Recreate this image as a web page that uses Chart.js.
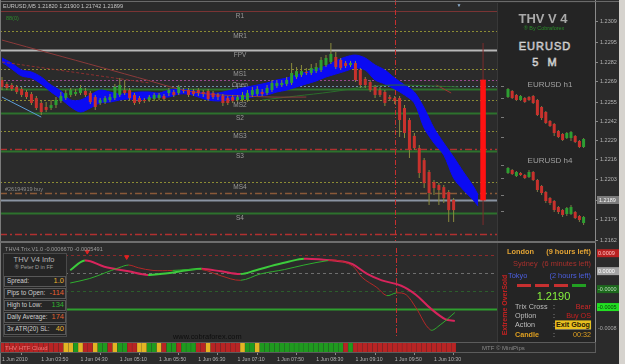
<!DOCTYPE html>
<html>
<head>
<meta charset="utf-8">
<title>EURUSD M5 - THV V4</title>
<script src="https://cdn.jsdelivr.net/npm/chart.js@4.4.1/dist/chart.umd.min.js"></script>
<style>
  html, body { margin: 0; padding: 0; }
  body { width: 625px; height: 364px; overflow: hidden; position: relative; background: #2b2b2b; font-family: 'Liberation Sans', Arial, sans-serif; }
  canvas { position: absolute; }
  .t { position: absolute; white-space: nowrap; line-height: 1; transform: translateY(-50%); }
  .b { position: absolute; box-sizing: border-box; }
</style>
</head>
<body>
<canvas id="main" width="625" height="242" style="left:0;top:0"></canvas>
<canvas id="trix" width="625" height="98" style="left:0;top:243px"></canvas>
<canvas id="heat" width="625" height="23" style="left:0;top:341px"></canvas>
<div class="b" style="left:497px;top:3px;width:98px;height:339px;background:#242424;border-left:1px solid #383838"></div>
<canvas id="h1" width="92" height="66" style="left:500px;top:86px"></canvas>
<canvas id="h4" width="92" height="62" style="left:500px;top:165px"></canvas>
<script>
const FONT = "'Liberation Sans', Arial, sans-serif";
Chart.defaults.font.family = FONT;

// ================= PRICE DATA (EURUSD M5, bar 0 = 03:10) =================

const opens = [
  1.22699,1.22672,1.22665,1.22652,1.22638,1.22618,1.22604,1.22577,1.22544,1.22517,
  1.22510,1.22530,1.22557,1.22577,1.22598,1.22604,1.22611,1.22625,1.22611,1.22584,
  1.22544,1.22550,1.22564,1.22577,1.22598,1.22631,1.22631,1.22598,1.22577,1.22564,
  1.22564,1.22571,1.22577,1.22591,1.22611,1.22618,1.22611,1.22631,1.22631,1.22625,
  1.22631,1.22618,1.22625,1.22611,1.22598,1.22591,1.22577,1.22584,1.22564,1.22564,
  1.22564,1.22598,1.22604,1.22618,1.22611,1.22631,1.22658,1.22665,1.22672,1.22679,
  1.22719,1.22733,1.22753,1.22746,1.22759,1.22766,1.22800,1.22820,1.22854,1.22834,
  1.22813,1.22800,1.22813,1.22766,1.22706,1.22685,1.22652,1.22631,1.22618,1.22584,
  1.22577,1.22577,1.22510,1.22429,1.22322,1.22240,1.22159,1.22079,1.22011,1.21991,
  1.21977,1.21944,1.21890
];
const closes = [
  1.22652,1.22645,1.22638,1.22618,1.22598,1.22584,1.22544,1.22510,1.22483,1.22497,
  1.22530,1.22564,1.22591,1.22611,1.22631,1.22618,1.22645,1.22598,1.22550,1.22517,
  1.22564,1.22577,1.22584,1.22652,1.22665,1.22611,1.22577,1.22544,1.22550,1.22557,
  1.22584,1.22598,1.22598,1.22571,1.22631,1.22598,1.22652,1.22625,1.22598,1.22604,
  1.22611,1.22604,1.22571,1.22584,1.22584,1.22544,1.22544,1.22557,1.22584,1.22598,
  1.22611,1.22631,1.22638,1.22604,1.22645,1.22679,1.22679,1.22679,1.22699,1.22746,
  1.22759,1.22759,1.22746,1.22780,1.22786,1.22834,1.22847,1.22874,1.22786,1.22780,
  1.22793,1.22813,1.22699,1.22665,1.22665,1.22631,1.22598,1.22598,1.22544,1.22571,
  1.22557,1.22429,1.22342,1.22227,1.22240,1.22072,1.22004,1.21937,1.21971,1.21957,
  1.21903,1.21822,1.21822
];
const highs = [
  1.22719,1.22685,1.22679,1.22665,1.22652,1.22631,1.22618,1.22591,1.22564,1.22550,
  1.22564,1.22584,1.22618,1.22631,1.22645,1.22638,1.22665,1.22645,1.22625,1.22598,
  1.22577,1.22591,1.22604,1.22672,1.22712,1.22699,1.22645,1.22611,1.22591,1.22577,
  1.22598,1.22611,1.22611,1.22604,1.22645,1.22631,1.22665,1.22645,1.22645,1.22638,
  1.22645,1.22631,1.22638,1.22625,1.22611,1.22604,1.22591,1.22598,1.22598,1.22618,
  1.22631,1.22652,1.22658,1.22638,1.22665,1.22699,1.22699,1.22699,1.22719,1.22813,
  1.22786,1.22800,1.22780,1.22807,1.22813,1.22854,1.22867,1.22948,1.22888,1.22847,
  1.22827,1.22827,1.22827,1.22780,1.22719,1.22699,1.22665,1.22652,1.22631,1.22598,
  1.22591,1.22591,1.22530,1.22443,1.22342,1.22261,1.22173,1.22092,1.22025,1.22004,
  1.21991,1.21957,1.21903
];
const lows = [
  1.22631,1.22631,1.22625,1.22604,1.22584,1.22571,1.22530,1.22497,1.22463,1.22483,
  1.22497,1.22510,1.22544,1.22564,1.22584,1.22591,1.22598,1.22584,1.22537,1.22497,
  1.22530,1.22537,1.22550,1.22564,1.22584,1.22598,1.22564,1.22530,1.22537,1.22544,
  1.22550,1.22557,1.22564,1.22557,1.22591,1.22584,1.22598,1.22611,1.22584,1.22591,
  1.22591,1.22584,1.22557,1.22571,1.22564,1.22524,1.22530,1.22544,1.22550,1.22550,
  1.22550,1.22584,1.22591,1.22591,1.22598,1.22618,1.22645,1.22652,1.22658,1.22665,
  1.22706,1.22719,1.22733,1.22733,1.22746,1.22753,1.22786,1.22807,1.22773,1.22766,
  1.22780,1.22786,1.22685,1.22645,1.22645,1.22618,1.22577,1.22584,1.22524,1.22557,
  1.22537,1.22315,1.22308,1.22173,1.22227,1.22038,1.21971,1.21856,1.21924,1.21856,
  1.21870,1.21742,1.21742
];

const priceTicks = [1.2309,1.2295,1.2282,1.2269,1.2255,1.2242,1.2229,1.2216,1.2203,1.2189,1.2176,1.2162];
const currentPrice = 1.21890;

// pivot levels
const levelNames  = ['R1','MR1','FPV','MS1','Open','','S1','MS2','S2','MS3','','S3','MS4','','','S4',''];
const levelValues = [1.23164,1.23029,1.22901,1.22773,1.22699,1.22658,1.22638,1.22564,1.22476,1.22355,1.22233,1.22220,1.22011,1.21937,1.21890,1.21802,1.21661];
const levelKinds  = ['pivot','mid','fpv','mid','open','prevclose','support','mid','support','mid','daily','support','mid','order','price','support','daily'];

// blue cloud
const bandBars  = [0,2,4,6,8,10,12,14,16,18,20,22,24,26,28,30,32,34,36,38,40,42,44,46,48,50,52,54,56,58,60,62,64,66,68,70,72,74,76,78,80,82,84,86,88,90,92,94,96,97];
const bandUpper = [1.22847,1.22813,1.22766,1.22753,1.22719,1.22665,1.22625,1.22564,1.22564,1.22598,1.22631,1.22618,1.22604,1.22611,1.22618,1.22618,1.22611,1.22631,1.22638,1.22631,1.22618,1.22611,1.22611,1.22625,1.22638,1.22652,1.22665,1.22679,1.22699,1.22712,1.22733,1.22753,1.22773,1.22793,1.22827,1.22854,1.22867,1.22847,1.22800,1.22766,1.22712,1.22665,1.22618,1.22510,1.22375,1.22274,1.22180,1.22079,1.21984,1.21924];
const bandLower = [1.22820,1.22773,1.22726,1.22712,1.22672,1.22618,1.22571,1.22517,1.22483,1.22510,1.22544,1.22550,1.22564,1.22571,1.22564,1.22577,1.22584,1.22584,1.22604,1.22604,1.22584,1.22564,1.22557,1.22564,1.22571,1.22577,1.22591,1.22598,1.22618,1.22631,1.22652,1.22672,1.22692,1.22719,1.22739,1.22759,1.22780,1.22766,1.22699,1.22672,1.22638,1.22598,1.22544,1.22375,1.22274,1.22193,1.22038,1.21957,1.21890,1.21849];

// moving averages and trend lines
const maBars = [0,10,20,30,36,42,55,62];
const maValues = [1.22968,1.22877,1.22786,1.22694,1.22638,1.22604,1.22584,1.22584];
const dashBars = [0,30];
const dashValues = [1.22820,1.22679];
const greenMaBars = [53,60,67,74,80,88,93];
const greenMaValues = [1.22564,1.22591,1.22618,1.22652,1.22665,1.22658,1.22652];
const trendBars = [0,8];
const trendValues = [1.22584,1.22449];
const redSegBars = [88.5,91.5];
const redSegValues = [1.22665,1.22611];

// signal bar on the right
const signalBar = 98;
const signalRange = [1.21890,1.22699];
const signalSpan = [1.21721,1.22948];
const sessionBar = 80;

// ================= TRIX PANEL DATA =================

const trixABars = [13,16,20,25,29,33,37,40,44,48,51,55,58,61,65,69,71,74,77,81,84,87,90,92];
const trixAValues = [0.00004,0.000175,0.00009,0.000025,-0.000025,0,0.00004,0.00006,0.000025,-0.0000125,0.0000375,0.0001125,0.0001625,0.0002,0.0001875,0.0001625,0.000125,-0.00001,-0.0001,-0.000175,-0.0003,-0.00049,-0.00064,-0.000667];
const trixBBars = [13,17,20,23,25,27,30,34,40,44,48,52,57,61,66,68,71,73,76,78,80,82,84,87,89,92];
const trixBValues = [-0.0001375,-0.000075,0,0.000075,0.0001125,0.000075,0.0000375,0.0000375,0.00005,-0.0000375,-0.0001,-0.0000125,0.00005,0.0001125,0.000175,0.000175,0.0001,-0.0000625,-0.0002,-0.0003125,-0.000275,-0.0003,-0.00048,-0.00079,-0.00072,-0.000549];
const arrowBars = [16.5,24.6];
const arrowValues = [0.0003,0.000225];
const trixLevels = [0.00025,0,-0.00025,-0.0005];
const trixLevelKinds = ['upper','zero','lower','signal'];
const trixTagValues = [0.00025,0,-0.00025,-0.0005,-0.0008];
const trixTagTexts = ['0.0009','0.0000','-0.0000','-0.0005','-0.0008'];
const trixTagKinds = ['red','gray','dkgreen','green','plain'];

// ================= HTF CLOUD + TIME AXIS =================

const heatCodes = ('RRRRRRRRRRRRR' + 'YYGYRRYGGRYGGRRYYGGYRGGRGGGRRY' + 'RRRRRR' + 'YGGY' +
  'GGGGGGGGGGGGGGG' + 'GGRGR' + 'RRRRRRRRRRRRRRRRRRRR').split('');
const timeBars = [0,8,16,24,32,40,48,56,64,72,80,88];
const timeLabels = ['1 Jun 2010','1 Jun 03:50','1 Jun 04:30','1 Jun 05:10','1 Jun 05:50','1 Jun 06:30',
  '1 Jun 07:10','1 Jun 07:50','1 Jun 08:30','1 Jun 09:10','1 Jun 09:50','1 Jun 10:30'];

// ================= MINI CHARTS (H1 / H4) =================

const h1Open  = [1.23025,1.23175,1.23075,1.2295,1.2300,1.23025,1.2305,1.2295,1.22775,1.2265,1.22425,1.2235,1.22175,1.221,1.22,1.22,1.2205,1.21925,1.21775];
const h1Close = [1.23225,1.2300,1.2295,1.2305,1.229,1.2295,1.22875,1.22575,1.225,1.22375,1.223,1.22125,1.22025,1.2195,1.22125,1.2215,1.219,1.21775,1.21975];
const h1High  = [1.2325,1.232,1.231,1.23075,1.23025,1.2305,1.23075,1.22975,1.228,1.22675,1.2245,1.22375,1.222,1.22125,1.2215,1.22175,1.22075,1.2195,1.22];
const h1Low   = [1.23,1.22975,1.22925,1.22925,1.22875,1.22925,1.2285,1.2255,1.2245,1.2235,1.22275,1.2205,1.22,1.21925,1.21975,1.21925,1.21875,1.2175,1.2175];

const h4Open  = [1.2432,1.2450,1.2414,1.2432,1.2420,1.2408,1.2438,1.2390,1.2354,1.2318,1.2282,1.2264,1.2228,1.2210,1.2186,1.2186,1.2198,1.2174,1.2132];
const h4Close = [1.2462,1.2426,1.2438,1.2420,1.2402,1.2438,1.2390,1.2330,1.2312,1.2264,1.2252,1.2210,1.2198,1.2180,1.2222,1.2228,1.2162,1.2150,1.2168];
const h4High  = [1.2468,1.2456,1.2444,1.2438,1.2426,1.2450,1.2444,1.2396,1.2360,1.2324,1.2288,1.2270,1.2234,1.2216,1.2228,1.2240,1.2204,1.2180,1.2174];
const h4Low   = [1.2426,1.2420,1.2408,1.2414,1.2396,1.2402,1.2384,1.2318,1.2300,1.2252,1.2240,1.2198,1.2186,1.2168,1.2174,1.2180,1.2156,1.2138,1.2120];

// ================= TEXT PANELS =================

const infoLabels = ['Spread:','Pips to Open:','High to Low:','Daily Average:','3x ATR(20) SL:'];
const infoValues = ['1.0','-114','134','174','40'];
const sessionNames = ['London','Sydney','Tokyo'];
const sessionLeft = ['(9 hours left)','(6 minutes left)','(2 hours left)'];
const strengthBars = ['bear','bear','bear','bull'];
const signalLabels = ['Trix Cross','Option','Action','Candle'];
const signalValues = ['Bear','Buy OS','Exit Gbog','00:32'];


// ================= STYLES =================

const UP = '#2e9e32', DOWN = '#c8322d', WICK = '#8a8a3c', BAND = '#0b0bf2';

const LEVEL_STYLE = {
  pivot:     { c: '#7a3434', w: 1,   d: [] },
  mid:       { c: '#8c8c34', w: 1,   d: [2, 2] },
  fpv:       { c: '#b8b8b8', w: 2,   d: [] },
  open:      { c: '#9c4a90', w: 1,   d: [2, 2] },
  prevclose: { c: '#6c8ca8', w: 1,   d: [2, 2] },
  support:   { c: '#2d722d', w: 2,   d: [] },
  daily:     { c: '#b03030', w: 1.5, d: [7, 3, 2, 3] },
  order:     { c: '#8a5a38', w: 1.5, d: [7, 3, 2, 3] },
  price:     { c: '#8a94a2', w: 2,   d: [] }
};
const TRIX_LEVEL_STYLE = {
  upper:  { c: '#8c2a2a', w: 1, d: [3, 3] },
  zero:   { c: '#6e6e6e', w: 1, d: [3, 3] },
  lower:  { c: '#2c5e2c', w: 1, d: [3, 3] },
  signal: { c: '#2f9e2f', w: 2, d: [] }
};
const TAG_STYLE = {
  red:     { bg: '#b82222', fg: '#ffc0c0' },
  gray:    { bg: '#a4a4a4', fg: '#ffffff' },
  dkgreen: { bg: '#1d6a1d', fg: '#c0dcc0' },
  green:   { bg: '#22e022', fg: '#0a3a0a' },
  plain:   { bg: null,      fg: '#a8a8a8' }
};
const HEAT = { R: '#b82424', G: '#1f9a1f', Y: '#e4b424' };

const X_SCALE = { type: 'linear', min: -0.4, max: 120.8, offset: false, display: false };
const NO_UI = { legend: { display: false }, tooltip: { enabled: false } };

function pts(xs, ys) {
  return xs.map((x, i) => ({ x: x, y: ys[i] }));
}

function hline(ctx, a, py, st) {
  ctx.strokeStyle = st.c;
  ctx.lineWidth = st.w;
  ctx.setLineDash(st.d);
  ctx.beginPath();
  ctx.moveTo(a.left, py);
  ctx.lineTo(a.right, py);
  ctx.stroke();
}

function vline(ctx, x, top, bottom) {
  ctx.strokeStyle = '#c83030';
  ctx.lineWidth = 1;
  ctx.setLineDash([5, 2, 1, 2]);
  ctx.beginPath();
  ctx.moveTo(x, top);
  ctx.lineTo(x, bottom);
  ctx.stroke();
}


// ================= MAIN PRICE CHART =================

const bars = opens.map((_, i) => i);
const candleColors = bars.map(i => closes[i] >= opens[i] ? UP : DOWN);

const levelPlugin = {
  id: 'levels',
  beforeDatasetsDraw(chart) {
    const { ctx, chartArea: a, scales: { x, y } } = chart;
    ctx.save();
    levelValues.forEach((v, i) => {
      const st = LEVEL_STYLE[levelKinds[i]];
      hline(ctx, a, Math.round(y.getPixelForValue(v)) + 0.5, st);
    });
    vline(ctx, Math.round(x.getPixelForValue(sessionBar)) + 0.5, a.top, a.bottom);
    ctx.setLineDash([]);
    ctx.font = '6.5px ' + FONT;
    ctx.fillStyle = '#9a9a9a';
    ctx.textAlign = 'center';
    ctx.textBaseline = 'middle';
    levelValues.forEach((v, i) => {
      if (levelNames[i]) ctx.fillText(levelNames[i], a.left + 240, y.getPixelForValue(v) + 5);
    });
    ctx.restore();
  },
  afterDraw(chart) {
    const { ctx, chartArea: a, scales: { y } } = chart;
    const py = y.getPixelForValue(currentPrice);
    ctx.save();
    ctx.fillStyle = '#7c7c7c';
    ctx.fillRect(a.right + 2, py - 4, 22, 8);
    ctx.fillStyle = '#f4f4f4';
    ctx.font = '5.5px ' + FONT;
    ctx.textBaseline = 'middle';
    ctx.fillText(currentPrice.toFixed(4), a.right + 4, py);
    ctx.restore();
  }
};

new Chart(document.getElementById('main'), {
  type: 'bar',
  data: {
    datasets: [
      { type: 'line', data: pts(bandBars, bandUpper), borderColor: BAND, backgroundColor: BAND, borderWidth: 1, pointRadius: 0, tension: 0.3, fill: '+1', order: 20 },
      { type: 'line', data: pts(bandBars, bandLower), borderColor: BAND, borderWidth: 1, pointRadius: 0, tension: 0.3, fill: false, order: 21 },
      { type: 'line', data: pts(maBars, maValues), borderColor: '#8c3a3a', borderWidth: 1, pointRadius: 0, tension: 0.3, order: 15 },
      { type: 'line', data: pts(dashBars, dashValues), borderColor: '#8c3030', borderWidth: 1, borderDash: [3, 2], pointRadius: 0, order: 15 },
      { type: 'line', data: pts(greenMaBars, greenMaValues), borderColor: '#2b6e2b', borderWidth: 1, pointRadius: 0, tension: 0.3, order: 15 },
      { type: 'line', data: pts(trendBars, trendValues), borderColor: '#5c9cd6', borderWidth: 1, pointRadius: 0, order: 15 },
      { type: 'line', data: pts(redSegBars, redSegValues), borderColor: '#a03232', borderWidth: 1, pointRadius: 0, order: 15 },
      { data: bars.map(i => ({ x: i, y: [lows[i], highs[i]] })), backgroundColor: WICK, maxBarThickness: 1, grouped: false, order: 3 },
      { data: bars.map(i => ({ x: i, y: [opens[i], closes[i]] })), backgroundColor: candleColors, maxBarThickness: 3, minBarLength: 1, grouped: false, order: 2 },
      { data: [{ x: signalBar, y: signalSpan }], backgroundColor: '#7c2c2c', maxBarThickness: 1, grouped: false, order: 1 },
      { data: [{ x: signalBar, y: signalRange }], backgroundColor: '#ff1212', maxBarThickness: 5, barPercentage: 1, categoryPercentage: 1, grouped: false, order: 0 }
    ]
  },
  options: {
    responsive: false,
    animation: false,
    devicePixelRatio: 1,
    layout: { padding: 0 },
    plugins: NO_UI,
    scales: {
      x: X_SCALE,
      y: {
        position: 'right',
        min: 1.21607,
        max: 1.23238,
        beginAtZero: false,
        afterBuildTicks: s => { s.ticks = priceTicks.map(v => ({ value: v })); },
        afterFit: s => { s.width = 30; s.paddingTop = 0; s.paddingBottom = 0; },
        ticks: { autoSkip: false, color: '#b4b4b4', font: { size: 5.5 }, padding: 2, callback: v => v.toFixed(4) },
        grid: { drawOnChartArea: false, color: '#8a8a8a', tickLength: 3 },
        border: { color: '#8a8a8a' }
      }
    }
  },
  plugins: [levelPlugin]
});


// ================= TRIX PANEL =================

const trixPlugin = {
  id: 'trixLevels',
  beforeDatasetsDraw(chart) {
    const { ctx, chartArea: a, scales: { x, y } } = chart;
    ctx.save();
    trixLevels.forEach((v, i) => {
      hline(ctx, a, Math.round(y.getPixelForValue(v)) + 0.5, TRIX_LEVEL_STYLE[trixLevelKinds[i]]);
    });
    vline(ctx, Math.round(x.getPixelForValue(sessionBar)) + 0.5, a.top, a.bottom);
    ctx.restore();
  },
  afterDraw(chart) {
    const { ctx, chartArea: a, scales: { y } } = chart;
    ctx.save();
    ctx.font = '5.5px ' + FONT;
    ctx.textBaseline = 'middle';
    trixTagValues.forEach((v, i) => {
      const st = TAG_STYLE[trixTagKinds[i]];
      const py = y.getPixelForValue(v) - 2;
      if (st.bg) {
        ctx.fillStyle = st.bg;
        ctx.fillRect(a.right + 2, py - 4, 24, 8);
      }
      ctx.fillStyle = st.fg;
      ctx.fillText(trixTagTexts[i], a.right + 3, py);
    });
    ctx.restore();
  }
};

function trixSegment(up, down) {
  return { borderColor: c => c.p1.parsed.y > c.p0.parsed.y ? up : down };
}

new Chart(document.getElementById('trix'), {
  type: 'line',
  data: {
    datasets: [
      { data: pts(trixBBars, trixBValues), borderColor: '#b42828', borderWidth: 1, pointRadius: 0, tension: 0.35, segment: trixSegment('#2fae2f', '#b42828') },
      { data: pts(trixABars, trixAValues), borderColor: '#d8245c', borderWidth: 2, pointRadius: 0, tension: 0.35, segment: trixSegment('#3ccc3c', '#d8245c') },
      { data: pts(arrowBars, arrowValues), showLine: false, pointStyle: 'triangle', rotation: 180, pointRadius: 2.5, backgroundColor: '#e02020', borderColor: '#e02020' }
    ]
  },
  options: {
    responsive: false,
    animation: false,
    devicePixelRatio: 1,
    layout: { padding: { right: 30 } },
    plugins: NO_UI,
    scales: {
      x: X_SCALE,
      y: { display: false, min: -0.000875, max: 0.00035 }
    }
  },
  plugins: [trixPlugin]
});


// ================= HTF CLOUD ROW + TIME AXIS =================

new Chart(document.getElementById('heat'), {
  type: 'bar',
  data: {
    datasets: [{
      data: bars.map(i => ({ x: i, y: 1 })),
      backgroundColor: heatCodes.map(c => HEAT[c]),
      maxBarThickness: 4,
      barPercentage: 1,
      categoryPercentage: 1,
      grouped: false
    }]
  },
  options: {
    responsive: false,
    animation: false,
    devicePixelRatio: 1,
    layout: { padding: { top: 2, right: 30 } },
    plugins: NO_UI,
    scales: {
      x: {
        type: 'linear', min: -0.4, max: 120.8, offset: false,
        afterBuildTicks: s => { s.ticks = timeBars.map(v => ({ value: v })); },
        afterFit: s => { s.height = 12; s.paddingLeft = 0; s.paddingRight = 0; },
        ticks: { autoSkip: false, maxRotation: 0, align: 'start', color: '#b4b4b4', font: { size: 5.2 }, padding: 1, callback: (v, i) => timeLabels[i] },
        grid: { drawOnChartArea: false, color: '#8a8a8a', tickLength: 3 },
        border: { display: false }
      },
      y: { display: false, min: 0, max: 1 }
    }
  }
});


// ================= MINI CHARTS =================

function miniChart(id, o, h, l, c, yMin, yMax) {
  const ids = o.map((_, i) => i);
  new Chart(document.getElementById(id), {
    type: 'bar',
    data: {
      datasets: [
        { data: ids.map(i => ({ x: i, y: [l[i], h[i]] })), backgroundColor: '#7d7d48', maxBarThickness: 1, grouped: false, order: 2 },
        { data: ids.map(i => ({ x: i, y: [o[i], c[i]] })), backgroundColor: ids.map(i => c[i] >= o[i] ? UP : DOWN), maxBarThickness: 3, minBarLength: 1, grouped: false, order: 1 }
      ]
    },
    options: {
      responsive: false,
      animation: false,
      devicePixelRatio: 1,
      plugins: NO_UI,
      scales: {
        x: { type: 'linear', min: -0.95, max: 20, offset: false, display: false },
        y: {
          position: 'left', min: yMin, max: yMax, beginAtZero: false,
          afterFit: s => { s.width = 4; s.paddingTop = 0; s.paddingBottom = 0; },
          ticks: { display: false },
          grid: { drawOnChartArea: false, color: '#7a7a7a', tickLength: 3 },
          border: { display: false }
        }
      }
    }
  });
}

miniChart('h1', h1Open, h1High, h1Low, h1Close, 1.2165, 1.2330);
miniChart('h4', h4Open, h4High, h4Low, h4Close, 1.2108, 1.2480);


// ================= HTML TEXT & FRAME =================

function text(x, y, str, css) {
  const d = document.createElement('div');
  d.className = 't';
  d.textContent = str;
  d.style.cssText = 'left:' + x + 'px;top:' + y + 'px;' + (css || '');
  document.body.appendChild(d);
  return d;
}

function rect(x, y, w, h, css) {
  const d = document.createElement('div');
  d.className = 'b';
  d.style.cssText = 'left:' + x + 'px;top:' + y + 'px;width:' + w + 'px;height:' + h + 'px;' + (css || '');
  document.body.appendChild(d);
  return d;
}

const CENTER = 'transform:translate(-50%,-50%);';
const RIGHT = 'transform:translate(-100%,-50%);';

// frame
rect(0, 1, 619, 1, 'background:#6a6a6a');
rect(0, 0, 1, 364, 'background:#7a7a7a');
rect(0, 241, 596, 2, 'background:#6e6e6e');
rect(595, 243, 1, 110, 'background:#8a8a8a');
rect(0, 342, 596, 11, 'border:1px solid #5c5c5c');
rect(619, 0, 6, 364, 'background:#d6d3ce');

// main panel labels
text(3, 7, 'EURUSD,M5  1.21820 1.21900 1.21742 1.21899', 'font-size:5.6px;color:#c4c4c4');
text(6, 19, '88(0)', 'font-size:5.5px;color:#2e8a2e');
text(459, 4.5, '▼', 'font-size:5px;color:#8fb0d0;' + CENTER);
text(5, 190, '#26194919 buy', 'font-size:5.5px;color:#8c8c8c');

// trix panel labels
text(5, 250, 'THV4.Trix.V1.0 -0.0006670 -0.0005491', 'font-size:5.6px;color:#9c9c9c');
text(173, 337, 'www.cobraforex.com', 'font-size:7.4px;color:#0e0e0e');
text(5, 347.5, 'THV HTF Cloud', 'font-size:6px;color:#f07a7a');
text(482, 348, 'MTF © MiniPips', 'font-size:6px;color:#8a8a8a');

// info box
const INFO_COLORS = ['#e8b030', '#e86030', '#30b030', '#e06030', '#e8b030'];
rect(3, 253, 64, 84, 'background:#252525;border:1px solid #4a4a4a');
text(34, 260, 'THV  V4  Info', 'font-size:7.5px;color:#b8b8b8;' + CENTER);
text(34, 268, '® Peter D in FF', 'font-size:5.5px;color:#a0a0a0;' + CENTER);
infoLabels.forEach((lab, i) => {
  const cy = 281 + i * 12;
  rect(4, cy - 5.5, 62, 11, 'border:1px solid #585858;background:#262626');
  text(7, cy, lab, 'font-size:6.3px;color:#cfcfcf');
  text(64, cy, infoValues[i], 'font-size:7.5px;color:' + INFO_COLORS[i] + ';' + RIGHT);
});

// right panel header
text(543, 18, 'THV V 4', 'font-size:13px;font-weight:bold;color:#a9a9a9;' + CENTER);
text(544, 29, '® By Cobraforex', 'font-size:5.5px;color:#2a8c2a;' + CENTER);
text(545, 46, 'EURUSD', 'font-size:11px;color:#8c8c8c;-webkit-text-stroke:0.5px #e6e6e6;letter-spacing:1px;' + CENTER);
text(546, 62, '5 M', 'font-size:11px;color:#8c8c8c;-webkit-text-stroke:0.5px #e6e6e6;letter-spacing:3px;' + CENTER);
text(550, 85, 'EURUSD h1', 'font-size:8px;color:#a0a0a0;' + CENTER);
text(550, 161, 'EURUSD h4', 'font-size:8px;color:#a0a0a0;' + CENTER);

// sessions
const SESSION_STYLE = [
  { x: 507, c: '#e2a334', bold: true },
  { x: 513, c: '#a8302c', bold: false },
  { x: 508, c: '#4c5fe0', bold: false }
];
sessionNames.forEach((name, i) => {
  const st = SESSION_STYLE[i];
  const css = 'font-size:7.4px;color:' + st.c + ';' + (st.bold ? 'font-weight:bold;' : '');
  const cy = 252 + i * 12;
  text(st.x, cy, name, css);
  text(591, cy, sessionLeft[i], css + RIGHT);
});
const STRENGTH = { bear: '#c63030', bull: '#22a022' };
strengthBars.forEach((s, i) => {
  rect(517 + i * 18.3, 284, 14, 3, 'background:' + STRENGTH[s]);
});
text(553.5, 296, '1.2190', 'font-size:11px;color:#86f23e;' + CENTER);

// trix signals
const SIGNAL_LABEL_CSS = ['color:#bdbdbd', 'color:#bdbdbd', 'color:#bdbdbd', 'color:#e0a020;font-weight:bold'];
const SIGNAL_VALUE_CSS = ['color:#d02828', 'color:#c82020', 'color:#2a1a00;font-weight:bold;background:#e8c020;padding:1px 1px', 'color:#e0a020'];
signalLabels.forEach((lab, i) => {
  const cy = [307, 316, 325, 335][i];
  text(515, cy, lab, 'font-size:7.2px;' + SIGNAL_LABEL_CSS[i]);
  text(553, cy, ':', 'font-size:7.2px;color:#bdbdbd');
  text(591, cy, signalValues[i], 'font-size:7.2px;' + SIGNAL_VALUE_CSS[i] + ';' + RIGHT);
});
text(504, 305, 'Extreme OverSold', 'font-size:7px;font-weight:bold;color:#c42222;transform:translate(-50%,-50%) rotate(-90deg)');
</script>
</body>
</html>
